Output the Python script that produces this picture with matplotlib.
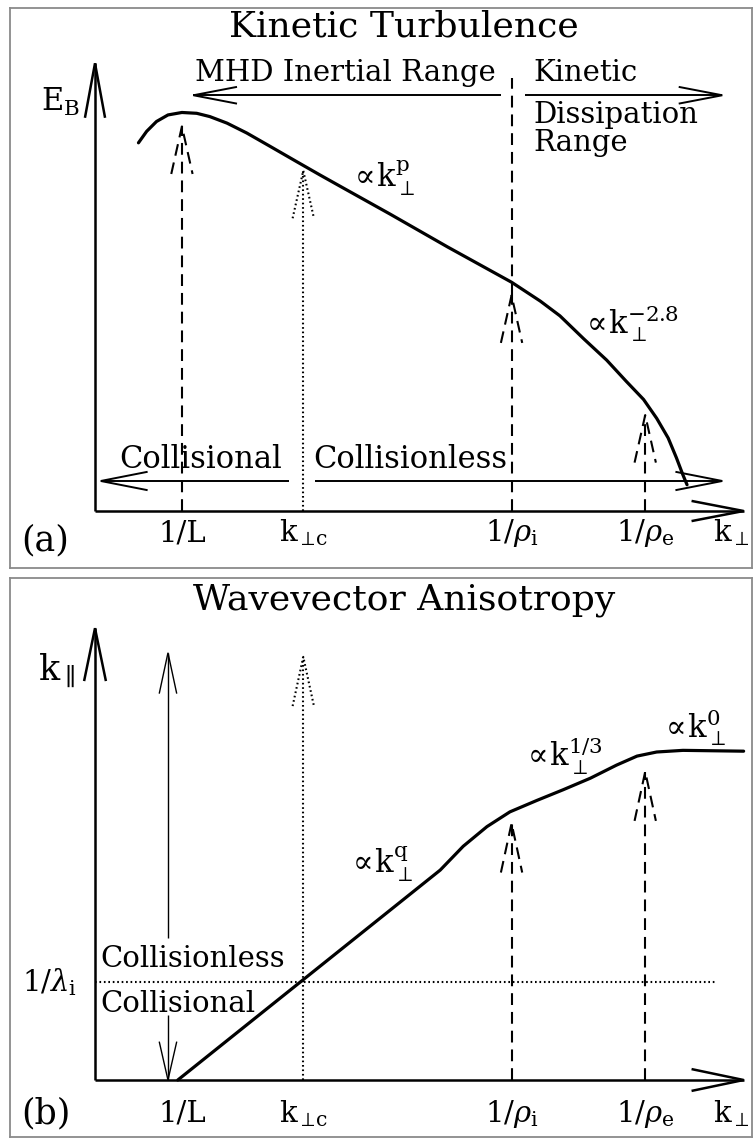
import numpy as np
import matplotlib
matplotlib.use('Agg')
import matplotlib.pyplot as plt

plt.rcParams['font.family'] = ['DejaVu Serif']
plt.rcParams['mathtext.fontset'] = 'dejavuserif'
plt.rcParams['lines.scale_dashes'] = False

# characteristic wavenumbers (schematic log units, axis corner at 0)
k_L, k_c, k_rhoi, k_rhoe = 1.06, 2.54, 5.08, 6.71
scale_pos = [k_L, k_c, k_rhoi, k_rhoe]
scale_labels = ['1/L', r'k$_{\perp\!\mathrm{c}}$', r'1/$\rho_\mathrm{i}$', r'1/$\rho_\mathrm{e}$']

# (a) magnetic energy spectrum E_B(k_perp)
spec_k = [0.53, 0.63, 0.75, 0.89, 1.06, 1.24, 1.40, 1.61, 1.85, 2.13, 2.46, 2.74, 2.99,
          3.60, 4.30, 5.08, 5.43, 5.67, 5.96, 6.24, 6.48, 6.69, 6.85, 6.99, 7.09, 7.17, 7.22]
spec_E = [4.49, 4.63, 4.75, 4.83, 4.86, 4.85, 4.81, 4.73, 4.61, 4.45, 4.26, 4.10, 3.96,
          3.62, 3.22, 2.79, 2.56, 2.38, 2.10, 1.84, 1.58, 1.36, 1.13, 0.89, 0.65, 0.44, 0.32]
# tips of the arrows pointing up at the spectrum
tips_a = [4.69, 4.15, 2.63, 1.17]

# (b) k_par versus k_perp
aniso_kperp = [1.01, 4.21, 4.49, 4.78, 5.06, 5.39, 5.71, 6.04, 6.36, 6.61, 6.85, 7.17, 7.91]
aniso_kpar = [0.00, 2.56, 2.85, 3.09, 3.27, 3.41, 3.54, 3.68, 3.84, 3.95, 4.00, 4.02, 4.01]
inv_lambda_i = 1.20
tips_b = [5.16, 3.13, 3.76]   # k_c, 1/rho_i, 1/rho_e

DASH = (0, (8.5, 5.0))
DOT = (0, (1.2, 2.0))


def arrow(ax, x0, y0, x1, y1, hl, hw, **kw):
    # shaft with an open "V" head at (x1, y1)
    d = np.array([x1 - x0, y1 - y0], dtype=float)
    d /= np.hypot(*d)
    n = np.array([-d[1], d[0]])
    tip = np.array([x1, y1])
    base = tip - hl * d
    ax.plot([x0, x1], [y0, y1], solid_capstyle='butt', **kw)
    wing = np.array([base + hw * n, tip, base - hw * n])
    ax.plot(wing[:, 0], wing[:, 1], solid_joinstyle='miter', **kw)


fig = plt.figure(figsize=(7.55, 11.4), dpi=100)
ax_a = fig.add_axes([10 / 755, 1 - 568 / 1140, 742 / 755, 560 / 1140])
ax_b = fig.add_axes([10 / 755, 1 - 1137 / 1140, 742 / 755, 559 / 1140])

# 82 px per unit in both directions, axis corner 57 px above the frame bottom
for ax in (ax_a, ax_b):
    ax.set_xlim(-85 / 82, 657 / 82)
    ax.set_ylim(-57 / 82, (ax.get_position().height * 1140 - 57) / 82)
    ax.set_xticks([])
    ax.set_yticks([])
    for s in ax.spines.values():
        s.set_color('#8a8a8a')
        s.set_linewidth(1.3)

axis_kw = dict(color='black', lw=1.8)
curve_kw = dict(color='black', lw=2.3, solid_joinstyle='round', solid_capstyle='round')

# ---------------- panel (a) ----------------
ax = ax_a
arrow(ax, 0, 0, 0, 5.46, 0.65, 0.12, **axis_kw)
arrow(ax, 0, 0, 7.91, 0, 0.62, 0.12, **axis_kw)

ax.plot(spec_k, spec_E, **curve_kw)

# arrows from the scale positions up to the spectrum
styles_a = [DASH, DOT, DASH, DASH]
for k, tip, ls in zip(scale_pos, tips_a, styles_a):
    arrow(ax, k, 0, k, tip, 0.58, 0.13, color='black', lw=1.5, linestyle=ls)
# ion gyroscale divides inertial and dissipation ranges
ax.plot([k_rhoi, k_rhoi], [tips_a[2], 5.28], color='black', lw=1.5, linestyle=DASH)

# range arrows at the top
arrow(ax, 4.95, 5.07, 1.20, 5.07, 0.52, 0.10, color='black', lw=1.4)
arrow(ax, 5.24, 5.07, 7.65, 5.07, 0.52, 0.10, color='black', lw=1.4)
ax.text(1.22, 5.24, 'MHD Inertial Range', fontsize=21, va='baseline')
ax.text(5.35, 5.24, 'Kinetic', fontsize=21, va='baseline')
ax.text(5.35, 4.73, 'Dissipation', fontsize=21, va='baseline')
ax.text(5.35, 4.39, 'Range', fontsize=21, va='baseline')

# collisional / collisionless arrows near the bottom
arrow(ax, k_c - 0.17, 0.366, 0.07, 0.366, 0.56, 0.11, color='black', lw=1.4)
arrow(ax, k_c + 0.14, 0.366, 7.65, 0.366, 0.56, 0.11, color='black', lw=1.4)
ax.text(0.30, 0.52, 'Collisional', fontsize=22, va='baseline')
ax.text(2.66, 0.52, 'Collisionless', fontsize=22, va='baseline')

ax.text(3.10, 3.94, r'$\propto\!\mathrm{k}_\perp^\mathrm{p}$', fontsize=22, va='baseline')
ax.text(5.93, 2.17, r'$\propto\!\mathrm{k}_\perp^{-2.8}$', fontsize=22, va='baseline')

ax.text(-0.66, 4.88, r'E$_\mathrm{B}$', fontsize=22, va='baseline')
ax.text(3.77, 5.91, 'Kinetic Turbulence', fontsize=26, ha='center', va='center')

for k, lab in zip(scale_pos, scale_labels):
    ax.text(k, -0.37, lab, fontsize=21, ha='center', va='baseline')
ax.text(7.54, -0.37, r'k$_\perp$', fontsize=21, va='baseline')
ax.text(-0.90, -0.48, '(a)', fontsize=25, va='baseline')

# ---------------- panel (b) ----------------
ax = ax_b
arrow(ax, 0, 0, 0, 5.51, 0.63, 0.13, **axis_kw)
arrow(ax, 0, 0, 7.91, 0, 0.62, 0.13, **axis_kw)

ax.plot(aniso_kperp, aniso_kpar, **curve_kw)

# collisionality threshold
ax.plot([0, 7.59], [inv_lambda_i, inv_lambda_i], color='black', lw=1.5, linestyle=DOT)
for k, tip, ls in zip(scale_pos[1:], tips_b, [DOT, DASH, DASH]):
    arrow(ax, k, 0, k, tip, 0.60, 0.13, color='black', lw=1.5, linestyle=ls)

# thin arrows bracketing the collisional boundary
x_thin = 0.89
arrow(ax, x_thin, 1.73, x_thin, 5.21, 0.49, 0.105, color='black', lw=1.0)
arrow(ax, x_thin, 0.79, x_thin, 0.0, 0.46, 0.105, color='black', lw=1.0)
ax.text(0.07, 1.38, 'Collisionless', fontsize=21, va='baseline')
ax.text(0.07, 0.83, 'Collisional', fontsize=21, va='baseline')
ax.text(-0.89, inv_lambda_i, r'1/$\lambda_\mathrm{i}$', fontsize=21, va='center')

ax.text(3.07, 2.52, r'$\propto\!\mathrm{k}_\perp^\mathrm{q}$', fontsize=22, va='baseline')
ax.text(5.21, 3.82, r'$\propto\!\mathrm{k}_\perp^{1/3}$', fontsize=22, va='baseline')
ax.text(6.89, 4.18, r'$\propto\!\mathrm{k}_\perp^{0}$', fontsize=22, va='baseline')

ax.text(-0.70, 4.88, r'k$_\parallel$', fontsize=25, va='baseline')
ax.text(3.77, 5.85, 'Wavevector Anisotropy', fontsize=26, ha='center', va='center')

for k, lab in zip(scale_pos, scale_labels):
    ax.text(k, -0.51, lab, fontsize=21, ha='center', va='baseline')
ax.text(7.54, -0.51, r'k$_\perp$', fontsize=21, va='baseline')
ax.text(-0.90, -0.53, '(b)', fontsize=25, va='baseline')

fig.savefig('out.png', dpi=100)
